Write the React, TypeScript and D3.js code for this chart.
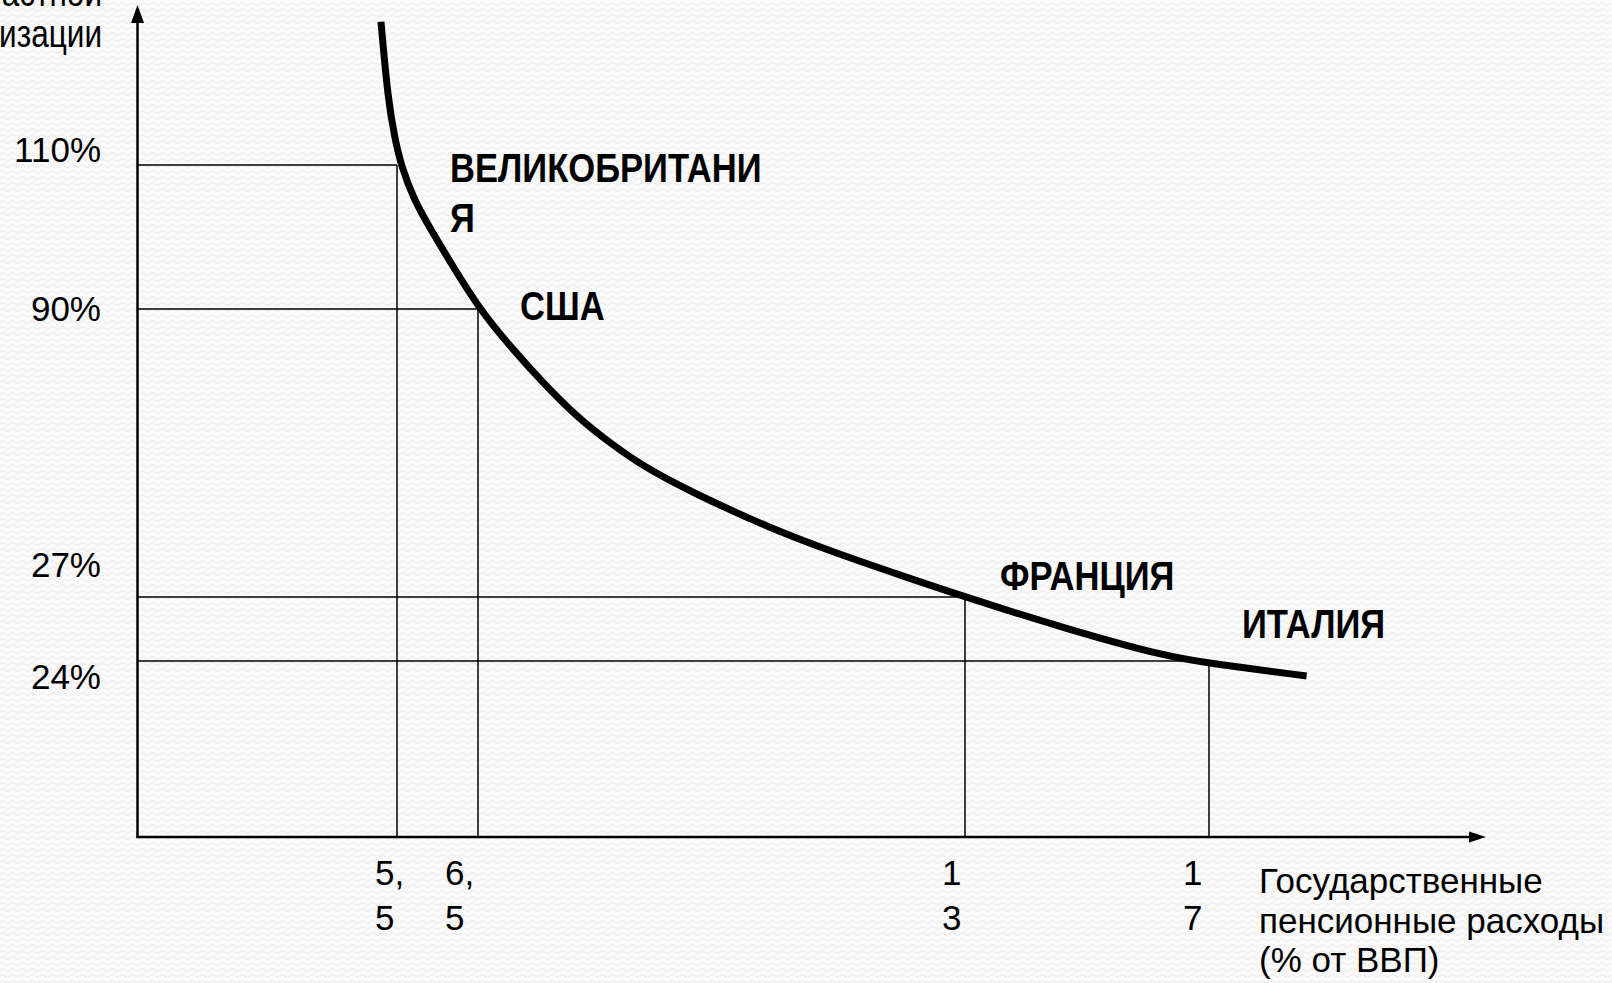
import * as d3 from 'd3'
import { useEffect, useRef } from 'react'

// данные
const countries = ['ВЕЛИКОБРИТАНИЯ', 'США', 'ФРАНЦИЯ', 'ИТАЛИЯ']
const pensionSpending = [5.5, 6.5, 13, 17] // % от ВВП
const capitalization = [110, 90, 27, 24] // %
const xTickLabels = ['5,5', '6,5', '13', '17']
const yTickLabels = ['110%', '90%', '27%', '24%']

// кривая (точки)
const curveSpending = [5.16, 5.31, 5.46, 5.55, 5.71, 5.92, 6.18, 6.52, 6.93, 7.37, 7.82, 8.26, 8.76, 9.37, 10.36, 11.24, 12.13, 13, 14.67, 16.31, 17, 18.6]
const curveCapitalization = [129.9, 119, 113.5, 110, 105.1, 101, 96.1, 90, 81.8, 73.8, 66.4, 60.7, 55, 49.8, 42.3, 36.8, 31.8, 27, 25.5, 24.2, 23.7, 21.95]

const yTitleLines = ['Уровень', 'частной', 'капитализации']
const xTitleLines = ['Государственные', 'пенсионные расходы', '(% от ВВП)']

// разметка
const W = 1612
const H = 983
const FONT = '"Liberation Sans", Arial, sans-serif'
const xStops = [137.5, 397, 478, 965, 1209]
const yStops = [837, 661, 597, 309, 165]
const yAxisTop = 5
const xAxisEnd = 1486
const labelOffset = [[53, 17], [42, 11], [35, -7], [33, -23]]
const yLabelDy = [-3, 12, -20, 28]
const xLabelDx = [-22, -33, -23, -26]

export default function App() {
  const svgRef = useRef<SVGSVGElement | null>(null)

  useEffect(() => {
    if (!svgRef.current)
      return
    const svg = d3.select(svgRef.current)
    svg.selectAll('*').remove()

    const x = d3.scaleLinear()
      .domain([0, ...[...pensionSpending].sort((a, b) => a - b)])
      .range(xStops)
    const y = d3.scaleLinear()
      .domain([0, ...[...capitalization].sort((a, b) => a - b)])
      .range(yStops)

    // фон
    const pat = svg.append('defs').append('pattern')
      .attr('id', 'bg').attr('width', 10).attr('height', 6)
      .attr('patternUnits', 'userSpaceOnUse')
    pat.append('rect').attr('width', 10).attr('height', 6).attr('fill', '#fafafa')
    pat.append('path').attr('d', 'M0 4 Q2.5 1 5 4 T10 4')
      .attr('fill', 'none').attr('stroke', '#e9e9e9').attr('stroke-width', 1)
    svg.append('rect').attr('width', W).attr('height', H).attr('fill', 'url(#bg)')

    const x0 = x(0)
    const y0 = y(0)

    // направляющие
    const guides = svg.append('g').attr('stroke', '#000').attr('stroke-width', 1.5)
    countries.forEach((_, i) => {
      const px = x(pensionSpending[i])
      const py = y(capitalization[i])
      guides.append('line').attr('x1', x0).attr('x2', px).attr('y1', py).attr('y2', py)
      guides.append('line').attr('x1', px).attr('x2', px).attr('y1', y0).attr('y2', py)
    })

    // оси
    const axes = svg.append('g')
    axes.append('line').attr('x1', x0).attr('x2', x0).attr('y1', y0 + 1).attr('y2', yAxisTop + 12)
      .attr('stroke', '#000').attr('stroke-width', 2.5)
    axes.append('path')
      .attr('d', `M${x0},${yAxisTop}L${x0 - 6.5},${yAxisTop + 18}L${x0 + 6.5},${yAxisTop + 18}Z`)
    axes.append('line').attr('x1', x0 - 1).attr('x2', xAxisEnd - 12).attr('y1', y0).attr('y2', y0)
      .attr('stroke', '#000').attr('stroke-width', 2.5)
    axes.append('path')
      .attr('d', `M${xAxisEnd},${y0}L${xAxisEnd - 17},${y0 - 5.5}L${xAxisEnd - 17},${y0 + 5.5}Z`)

    // кривая
    const line = d3.line<number>()
      .x(d => x(curveSpending[d]))
      .y(d => y(curveCapitalization[d]))
      .curve(d3.curveBasis)
    svg.append('path')
      .attr('d', line(d3.range(curveSpending.length)))
      .attr('fill', 'none').attr('stroke', '#000').attr('stroke-width', 7)

    // подписи оси Y
    svg.append('g').selectAll('text').data(yTickLabels).join('text')
      .attr('x', 101)
      .attr('y', (_, i) => y(capitalization[i]) + yLabelDy[i])
      .attr('text-anchor', 'end')
      .attr('font-family', FONT).attr('font-size', 35)
      .text(d => d)

    // подписи оси X (перенесены по строкам)
    xTickLabels.forEach((lbl, i) => {
      const parts = lbl.includes(',') ? [lbl.slice(0, 2), lbl.slice(2)] : [lbl[0], lbl.slice(1)]
      const t = svg.append('text')
        .attr('font-family', FONT).attr('font-size', 35)
        .attr('transform', `translate(${x(pensionSpending[i]) + xLabelDx[i]},${y0 + 48})`)
      parts.forEach((p, j) => t.append('tspan').attr('x', 0).attr('y', j * 45).text(p))
    })

    // названия стран
    countries.forEach((name, i) => {
      const parts = name.length > 13 ? [name.slice(0, 13), name.slice(13)] : [name]
      const g = svg.append('g')
        .attr('transform', `translate(${x(pensionSpending[i]) + labelOffset[i][0]},${y(capitalization[i]) + labelOffset[i][1]})`)
      const t = g.append('text')
        .attr('transform', 'scale(0.865,1)')
        .attr('font-family', FONT).attr('font-size', 40).attr('font-weight', 'bold')
      parts.forEach((p, j) => t.append('tspan').attr('x', 0).attr('y', j * 50).text(p))
    })

    // заголовок оси Y
    const yt = svg.append('g').attr('transform', 'translate(102,0)')
      .append('text')
      .attr('transform', 'scale(0.83,1)')
      .attr('font-family', FONT).attr('font-size', 38).attr('text-anchor', 'end')
    yTitleLines.forEach((l, j) => yt.append('tspan')
      .attr('x', 0).attr('y', 47 - (yTitleLines.length - 1 - j) * 41).text(l))

    // заголовок оси X
    const xt = svg.append('text')
      .attr('font-family', FONT).attr('font-size', 35)
    xTitleLines.forEach((l, j) => xt.append('tspan')
      .attr('x', 1259).attr('y', 893 + j * 39.5).text(l))
  }, [])

  return (
    <svg ref={svgRef} width={W} height={H} style={{ position: 'absolute', left: 0, top: 0 }} />
  )
}
